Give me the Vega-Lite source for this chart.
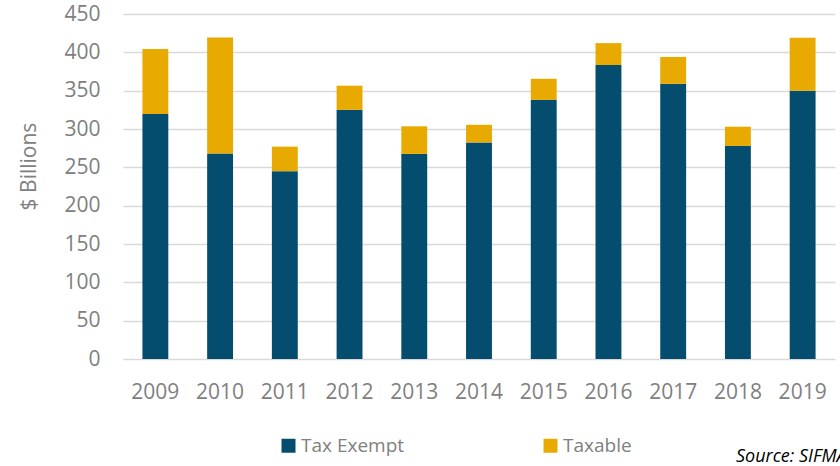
{
  "$schema": "https://vega.github.io/schema/vega-lite/v6.json",
  "width": 712,
  "height": 345,
  "autosize": {"type": "none"},
  "padding": {"left": 123, "top": 14, "right": 5, "bottom": 107},
  "background": "white",
  "config": {"view": {"stroke": null}, "font": "Open Sans"},
  "title": {
    "text": "Source: SIFMA",
    "orient": "bottom",
    "anchor": "end",
    "align": "left",
    "dx": -99,
    "dy": 6,
    "fontSize": 18,
    "fontStyle": "italic",
    "fontWeight": "normal",
    "color": "#000000",
    "font": "Open Sans",
    "baseline": "alphabetic",
    "offset": 0
  },
  "data": {
    "values": [
      {"year": "2009", "series": "Tax Exempt", "value": 319.5},
      {"year": "2009", "series": "Taxable", "value": 85},
      {"year": "2010", "series": "Tax Exempt", "value": 268},
      {"year": "2010", "series": "Taxable", "value": 151.5},
      {"year": "2011", "series": "Tax Exempt", "value": 245},
      {"year": "2011", "series": "Taxable", "value": 32},
      {"year": "2012", "series": "Tax Exempt", "value": 325},
      {"year": "2012", "series": "Taxable", "value": 31.5},
      {"year": "2013", "series": "Tax Exempt", "value": 267.5},
      {"year": "2013", "series": "Taxable", "value": 36},
      {"year": "2014", "series": "Tax Exempt", "value": 282.5},
      {"year": "2014", "series": "Taxable", "value": 23},
      {"year": "2015", "series": "Tax Exempt", "value": 338},
      {"year": "2015", "series": "Taxable", "value": 27.5},
      {"year": "2016", "series": "Tax Exempt", "value": 383.5},
      {"year": "2016", "series": "Taxable", "value": 28.5},
      {"year": "2017", "series": "Tax Exempt", "value": 359},
      {"year": "2017", "series": "Taxable", "value": 35},
      {"year": "2018", "series": "Tax Exempt", "value": 278},
      {"year": "2018", "series": "Taxable", "value": 25},
      {"year": "2019", "series": "Tax Exempt", "value": 350},
      {"year": "2019", "series": "Taxable", "value": 69}
    ]
  },
  "mark": {"type": "bar"},
  "encoding": {
    "x": {
      "field": "year",
      "type": "ordinal",
      "scale": {"paddingInner": 0.6, "paddingOuter": 0.3},
      "axis": {
        "title": null,
        "labelAngle": 0,
        "domain": false,
        "ticks": false,
        "grid": false,
        "labelPadding": 22,
        "labelFontSize": 21,
        "labelColor": "#808080",
        "labelFont": "Open Sans"
      }
    },
    "y": {
      "field": "value",
      "type": "quantitative",
      "stack": "zero",
      "scale": {"domain": [0, 450], "nice": false},
      "axis": {
        "title": "$ Billions",
        "values": [0, 50, 100, 150, 200, 250, 300, 350, 400, 450],
        "domain": false,
        "ticks": false,
        "labelPadding": 23,
        "labelFontSize": 21,
        "labelColor": "#808080",
        "labelFont": "Open Sans",
        "gridColor": "#D9D9D9",
        "gridWidth": 1.5,
        "titleFont": "Open Sans",
        "titleFontSize": 21,
        "titleFontWeight": "normal",
        "titleColor": "#808080",
        "titleAngle": -90,
        "titleAlign": "center",
        "titleBaseline": "alphabetic",
        "titleX": -88,
        "titleY": 152
      }
    },
    "color": {
      "field": "series",
      "type": "nominal",
      "scale": {"domain": ["Tax Exempt", "Taxable"], "range": ["#044D6E", "#E8AA00"]},
      "legend": {
        "title": null,
        "orient": "none",
        "legendX": 156,
        "legendY": 422,
        "direction": "horizontal",
        "symbolType": "square",
        "symbolSize": 196,
        "symbolStrokeWidth": 0,
        "labelFont": "Open Sans",
        "labelFontSize": 19,
        "labelColor": "#808080",
        "labelOffset": 3,
        "labelLimit": 0,
        "columnPadding": 136,
        "padding": 0
      }
    },
    "order": {"field": "series", "sort": "ascending"}
  }
}
